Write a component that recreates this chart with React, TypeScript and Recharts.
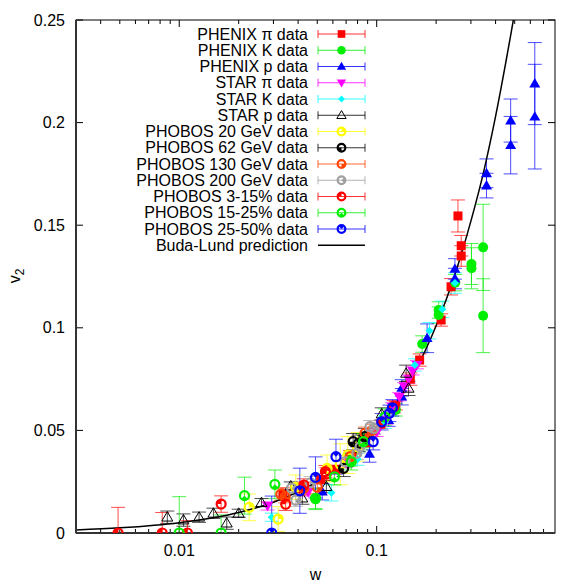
import React from 'react';
import { ComposedChart, Scatter, Line, XAxis, YAxis, ErrorBar } from 'recharts';

type Pt = { w: number; v: number; e: number | [number, number] };

const phenixPi: Pt[] = [
  { w: 0.0335, v: 0.019, e: 0.003 }, { w: 0.042, v: 0.0215, e: 0.003 }, { w: 0.052, v: 0.026, e: 0.002 },
  { w: 0.062, v: 0.031, e: 0.002 }, { w: 0.075, v: 0.037, e: 0.002 }, { w: 0.088, v: 0.044, e: 0.002 },
  { w: 0.105, v: 0.053, e: 0.002 }, { w: 0.125, v: 0.062, e: 0.002 }, { w: 0.148, v: 0.075, e: 0.003 },
  { w: 0.165, v: 0.0843, e: 0.003 }, { w: 0.212, v: 0.1038, e: 0.003 }, { w: 0.238, v: 0.12, e: 0.004 },
  { w: 0.258, v: 0.1545, e: 0.0078 }, { w: 0.268, v: 0.14, e: 0.005 }, { w: 0.268, v: 0.135, e: 0.005 },
];
const phenixK: Pt[] = [
  { w: 0.049, v: 0.0164, e: 0.005 }, { w: 0.074, v: 0.0356, e: 0.003 }, { w: 0.086, v: 0.0445, e: 0.003 },
  { w: 0.125, v: 0.06, e: 0.003 }, { w: 0.17, v: 0.0921, e: 0.004 }, { w: 0.206, v: 0.1087, e: 0.004 },
  { w: 0.206, v: 0.1062, e: 0.004 }, { w: 0.25, v: 0.122, e: 0.004 }, { w: 0.302, v: 0.1311, e: 0.01 },
  { w: 0.302, v: 0.129, e: 0.01 }, { w: 0.346, v: 0.1392, e: 0.021 }, { w: 0.346, v: 0.1059, e: 0.018 },
];
const phenixP: Pt[] = [
  { w: 0.053, v: 0.0201, e: 0.004 }, { w: 0.092, v: 0.0385, e: 0.004 }, { w: 0.115, v: 0.055, e: 0.003 },
  { w: 0.134, v: 0.0707, e: 0.004 }, { w: 0.134, v: 0.0664, e: 0.004 }, { w: 0.18, v: 0.0949, e: 0.007 },
  { w: 0.249, v: 0.1287, e: 0.005 }, { w: 0.249, v: 0.124, e: 0.005 }, { w: 0.36, v: 0.1753, e: 0.007 },
  { w: 0.36, v: 0.1693, e: 0.006 }, { w: 0.477, v: 0.201, e: 0.0105 }, { w: 0.477, v: 0.189, e: 0.014 },
  { w: 0.632, v: 0.219, e: 0.02 }, { w: 0.632, v: 0.2029, e: 0.0255 },
];
const starPi: Pt[] = [
  { w: 0.028, v: 0.0132, e: 0.002 }, { w: 0.045, v: 0.02, e: 0.002 }, { w: 0.07, v: 0.034, e: 0.002 },
  { w: 0.1, v: 0.049, e: 0.002 }, { w: 0.112, v: 0.055, e: 0.002 }, { w: 0.12, v: 0.0615, e: 0.002 },
  { w: 0.13, v: 0.0664, e: 0.002 }, { w: 0.138, v: 0.0713, e: 0.002 }, { w: 0.145, v: 0.075, e: 0.002 },
  { w: 0.152, v: 0.079, e: 0.002 }, { w: 0.16, v: 0.082, e: 0.002 },
];
const starK: Pt[] = [
  { w: 0.0294, v: 0.0077, e: 0.002 }, { w: 0.059, v: 0.0196, e: 0.004 }, { w: 0.08, v: 0.036, e: 0.003 },
  { w: 0.11, v: 0.054, e: 0.003 }, { w: 0.156, v: 0.0819, e: 0.003 }, { w: 0.185, v: 0.0986, e: 0.004 },
  { w: 0.215, v: 0.109, e: 0.004 }, { w: 0.249, v: 0.1218, e: 0.005 },
];
const starP: Pt[] = [
  { w: 0.0087, v: 0.0077, e: 0.003 }, { w: 0.0105, v: 0.0063, e: 0.003 }, { w: 0.0126, v: 0.0077, e: 0.0025 },
  { w: 0.0149, v: 0.0096, e: 0.0025 }, { w: 0.0174, v: 0.0048, e: 0.003 }, { w: 0.02, v: 0.0096, e: 0.002 },
  { w: 0.0261, v: 0.0148, e: 0.002 }, { w: 0.0367, v: 0.0229, e: 0.002 }, { w: 0.042, v: 0.017, e: 0.003 },
  { w: 0.0556, v: 0.0226, e: 0.003 }, { w: 0.085, v: 0.0453, e: 0.003 }, { w: 0.106, v: 0.058, e: 0.003 },
  { w: 0.141, v: 0.0778, e: 0.004 }, { w: 0.145, v: 0.0705, e: 0.0035 },
];
const phobos20: Pt[] = [
  { w: 0.0226, v: 0.0125, e: 0.0065 }, { w: 0.0317, v: 0.0068, e: 0.006 }, { w: 0.0389, v: 0.0223, e: 0.006 },
  { w: 0.0561, v: 0.0315, e: 0.0065 }, { w: 0.0654, v: 0.0335, e: 0.01 }, { w: 0.0715, v: 0.038, e: 0.009 },
  { w: 0.08, v: 0.042, e: 0.007 },
];
const phobos62: Pt[] = [
  { w: 0.068, v: 0.0315, e: 0.004 }, { w: 0.076, v: 0.0445, e: 0.004 }, { w: 0.081, v: 0.0437, e: 0.004 },
  { w: 0.087, v: 0.047, e: 0.004 },
];
const phobos130: Pt[] = [
  { w: 0.0327, v: 0.0189, e: 0.003 }, { w: 0.0344, v: 0.0177, e: 0.003 }, { w: 0.0428, v: 0.0218, e: 0.003 },
  { w: 0.05, v: 0.0223, e: 0.003 }, { w: 0.0734, v: 0.0372, e: 0.003 }, { w: 0.0873, v: 0.0486, e: 0.003 },
  { w: 0.095, v: 0.05, e: 0.003 },
];
const phobos200: Pt[] = [
  { w: 0.0371, v: 0.0218, e: 0.003 }, { w: 0.0389, v: 0.016, e: 0.003 }, { w: 0.0462, v: 0.0245, e: 0.003 },
  { w: 0.0692, v: 0.0347, e: 0.003 }, { w: 0.0793, v: 0.0388, e: 0.003 }, { w: 0.0824, v: 0.042, e: 0.003 },
  { w: 0.0925, v: 0.0518, e: 0.003 }, { w: 0.097, v: 0.051, e: 0.003 },
];
const phobos3to15: Pt[] = [
  { w: 0.0049, v: 0, e: [0, 0.0125] }, { w: 0.0082, v: 0, e: [0, 0.01] }, { w: 0.011, v: 0, e: [0, 0.006] },
  { w: 0.0163, v: 0.0141, e: 0.004 }, { w: 0.0346, v: 0.014, e: 0.003 }, { w: 0.0428, v: 0.0234, e: 0.003 },
  { w: 0.055, v: 0.0299, e: 0.003 }, { w: 0.0556, v: 0.0288, e: 0.003 }, { w: 0.122, v: 0.0615, e: 0.003 },
];
const phobos15to25: Pt[] = [
  { w: 0.01, v: 0, e: [0, 0.0177] }, { w: 0.0163, v: 0, e: [0, 0.0088] }, { w: 0.0214, v: 0.0182, e: 0.009 },
  { w: 0.0305, v: 0.0237, e: 0.007 }, { w: 0.049, v: 0.0169, e: 0.005 }, { w: 0.0611, v: 0.0274, e: 0.004 },
  { w: 0.0743, v: 0.0347, e: 0.004 }, { w: 0.0857, v: 0.0445, e: 0.004 }, { w: 0.11, v: 0.0565, e: 0.004 },
];
const phobos25to50: Pt[] = [
  { w: 0.0294, v: 0, e: [0, 0.018] }, { w: 0.0408, v: 0.0206, e: 0.011 }, { w: 0.049, v: 0.0271, e: 0.01 },
  { w: 0.0622, v: 0.0372, e: 0.0085 }, { w: 0.096, v: 0.0445, e: 0.004 }, { w: 0.106, v: 0.0542, e: 0.004 },
  { w: 0.116, v: 0.0583, e: 0.004 }, { w: 0.12, v: 0.061, e: 0.004 },
];
const budaLund = [
  { w: 0.003, v: 0.0015 }, { w: 0.005, v: 0.0025 }, { w: 0.01, v: 0.005 }, { w: 0.02, v: 0.01 },
  { w: 0.03, v: 0.015 }, { w: 0.05, v: 0.025 }, { w: 0.07, v: 0.035 }, { w: 0.1, v: 0.05 },
  { w: 0.15, v: 0.0755 }, { w: 0.2, v: 0.101 }, { w: 0.25, v: 0.1265 }, { w: 0.3, v: 0.152 },
  { w: 0.35, v: 0.177 }, { w: 0.4, v: 0.203 }, { w: 0.45, v: 0.229 }, { w: 0.5, v: 0.254 },
  { w: 0.55, v: 0.28 },
];

const X_MIN = 0.003;
const X_MAX = 0.8;
const Y_MIN = 0;
const Y_MAX = 0.25;
const xMajor = [0.01, 0.1];
const xMinor = [0.004, 0.005, 0.006, 0.007, 0.008, 0.009, 0.02, 0.03, 0.04, 0.05, 0.06, 0.07, 0.08, 0.09, 0.2, 0.3, 0.4, 0.5, 0.6, 0.7];
const xTicks = [...xMinor, ...xMajor].sort((a, b) => a - b);
const yTicks = [0, 0.05, 0.1, 0.15, 0.2, 0.25];

// chart geometry (plot box follows from these)
const CHART_W = 581;
const CHART_H = 583;
const MARGIN = { top: 20, right: 26, bottom: 0, left: 0 };
const Y_AXIS_W = 76;
const X_AXIS_H = 50;
const PLOT = {
  left: MARGIN.left + Y_AXIS_W,
  right: CHART_W - MARGIN.right,
  top: MARGIN.top,
  bottom: CHART_H - MARGIN.bottom - X_AXIS_H,
};

const SERIES = [
  { name: 'PHENIX π data', data: phenixPi, color: '#ff0000', kind: 'square', rot: 0 },
  { name: 'PHENIX K data', data: phenixK, color: '#00ee00', kind: 'circle', rot: 0 },
  { name: 'PHENIX p data', data: phenixP, color: '#0000ff', kind: 'tri', rot: 0 },
  { name: 'STAR π data', data: starPi, color: '#ff00ff', kind: 'itri', rot: 0 },
  { name: 'STAR K data', data: starK, color: '#00ffff', kind: 'diamond', rot: 0 },
  { name: 'STAR p data', data: starP, color: '#000000', kind: 'otri', rot: 0 },
  { name: 'PHOBOS 20 GeV data', data: phobos20, color: '#ffff00', kind: 'ring', rot: 0 },
  { name: 'PHOBOS 62 GeV data', data: phobos62, color: '#000000', kind: 'ring', rot: 180 },
  { name: 'PHOBOS 130 GeV data', data: phobos130, color: '#ff4500', kind: 'ring', rot: 90 },
  { name: 'PHOBOS 200 GeV data', data: phobos200, color: '#a0a0a0', kind: 'ring', rot: 45 },
  { name: 'PHOBOS 3-15% data', data: phobos3to15, color: '#ff0000', kind: 'ring', rot: 270 },
  { name: 'PHOBOS 15-25% data', data: phobos15to25, color: '#00ee00', kind: 'ring', rot: 135 },
  { name: 'PHOBOS 25-50% data', data: phobos25to50, color: '#0000ff', kind: 'ring', rot: 315 },
];

const FONT = 'Liberation Sans, Arial, Helvetica, sans-serif';

function Marker({ kind, cx, cy, color, rot, legend }: any) {
  if (cx == null || cy == null) return null;
  const k = legend ? 0.85 : 1;
  switch (kind) {
    case 'square': {
      const h = 4.5 * k;
      return <rect x={cx - h} y={cy - h} width={2 * h} height={2 * h} fill={color} />;
    }
    case 'circle':
      return <circle cx={cx} cy={cy} r={5 * k} fill={color} />;
    case 'tri': {
      const s = 5.5 * k;
      return <polygon points={`${cx},${cy - s} ${cx - s},${cy + s * 0.7} ${cx + s},${cy + s * 0.7}`} fill={color} />;
    }
    case 'itri': {
      const s = 5.5 * k;
      return <polygon points={`${cx},${cy + s} ${cx - s},${cy - s * 0.7} ${cx + s},${cy - s * 0.7}`} fill={color} />;
    }
    case 'diamond': {
      const s = 4 * k;
      return <polygon points={`${cx},${cy - s} ${cx + s},${cy} ${cx},${cy + s} ${cx - s},${cy}`} fill={color} />;
    }
    case 'otri': {
      const s = 5.5 * k;
      return <polygon points={`${cx},${cy - s} ${cx - s},${cy + s * 0.7} ${cx + s},${cy + s * 0.7}`} fill="none" stroke={color} strokeWidth={1} />;
    }
    case 'ring': {
      const r = 4.5 * k;
      const a0 = ((rot - 90) * Math.PI) / 180;
      const a1 = a0 + Math.PI / 2;
      const d = `M${cx},${cy} L${cx + r * Math.cos(a0)},${cy + r * Math.sin(a0)} A${r},${r} 0 0 1 ${cx + r * Math.cos(a1)},${cy + r * Math.sin(a1)} Z`;
      return (
        <g>
          <circle cx={cx} cy={cy} r={r} fill="none" stroke={color} strokeWidth={2.2} />
          <path d={d} fill={color} />
        </g>
      );
    }
    default:
      return null;
  }
}

const BottomTick = (props: any) => {
  const { x, y, payload } = props;
  if (!xMajor.includes(payload.value)) return <g />;
  return (
    <text x={x} y={y + 23} textAnchor="middle" fontSize={16} fontFamily={FONT} fill="#000">
      {String(payload.value)}
    </text>
  );
};
const LeftTick = (props: any) => {
  const { x, y, payload } = props;
  return (
    <text x={x - 11} y={y + 5.5} textAnchor="end" fontSize={16} fontFamily={FONT} fill="#000">
      {String(payload.value)}
    </text>
  );
};

// frame box with inward tick marks on all four sides (same log/linear mapping as the axes)
function Frame() {
  const { left: L, right: R, top: T, bottom: B } = PLOT;
  const lx0 = Math.log10(X_MIN);
  const lx1 = Math.log10(X_MAX);
  const xp = (w: number) => L + ((Math.log10(w) - lx0) / (lx1 - lx0)) * (R - L);
  const yp = (v: number) => B - ((v - Y_MIN) / (Y_MAX - Y_MIN)) * (B - T);
  return (
    <g>
      <rect x={L} y={T} width={R - L} height={B - T} fill="none" stroke="#000" strokeWidth={1} />
      {xTicks.map((t) => {
        const len = xMajor.includes(t) ? 7 : 4;
        const x = xp(t);
        return (
          <g key={`x${t}`}>
            <line x1={x} x2={x} y1={B} y2={B - len} stroke="#000" strokeWidth={1} />
            <line x1={x} x2={x} y1={T} y2={T + len} stroke="#000" strokeWidth={1} />
          </g>
        );
      })}
      {yTicks.map((t) => {
        const y = yp(t);
        return (
          <g key={`y${t}`}>
            <line x1={L} x2={L + 7} y1={y} y2={y} stroke="#000" strokeWidth={1} />
            <line x1={R} x2={R - 7} y1={y} y2={y} stroke="#000" strokeWidth={1} />
          </g>
        );
      })}
    </g>
  );
}

function LegendBox() {
  const textX = 308;
  const l0 = 318;
  const l1 = 365;
  const mx = (l0 + l1) / 2;
  const y0 = 34;
  const dy = 16.25;
  return (
    <g>
      {SERIES.map((s, i) => {
        const y = y0 + i * dy;
        return (
          <g key={s.name}>
            <text x={textX} y={y + 5.5} textAnchor="end" fontSize={16} fontFamily={FONT} fill="#000">
              {s.name}
            </text>
            <line x1={l0} x2={l1} y1={y} y2={y} stroke={s.color} strokeWidth={1} strokeOpacity={0.8} />
            <line x1={l0} x2={l0} y1={y - 4} y2={y + 4} stroke={s.color} strokeWidth={1} strokeOpacity={0.8} />
            <line x1={l1} x2={l1} y1={y - 4} y2={y + 4} stroke={s.color} strokeWidth={1} strokeOpacity={0.8} />
            <Marker kind={s.kind} cx={mx} cy={y} color={s.color} rot={s.rot} legend />
          </g>
        );
      })}
      <text x={textX} y={y0 + SERIES.length * dy + 5.5} textAnchor="end" fontSize={16} fontFamily={FONT} fill="#000">
        Buda-Lund prediction
      </text>
      <line x1={l0} x2={l1} y1={y0 + SERIES.length * dy} y2={y0 + SERIES.length * dy} stroke="#000" strokeWidth={1.5} />
    </g>
  );
}

export default function App() {
  return (
    <div style={{ position: 'absolute', left: 0, top: 0, background: '#fff' }}>
      <ComposedChart width={CHART_W} height={CHART_H} margin={MARGIN}>
        <XAxis
          xAxisId="b"
          dataKey="w"
          type="number"
          scale="log"
          domain={[X_MIN, X_MAX]}
          allowDataOverflow
          ticks={xTicks}
          interval={0}
          height={X_AXIS_H}
          tickSize={0}
          tickMargin={0}
          tickLine={false}
          tick={<BottomTick />}
          axisLine={{ stroke: '#333', strokeWidth: 2 }}
        />
        <YAxis
          yAxisId="l"
          dataKey="v"
          type="number"
          domain={[Y_MIN, Y_MAX]}
          allowDataOverflow
          ticks={yTicks}
          interval={0}
          width={Y_AXIS_W}
          tickSize={0}
          tickMargin={0}
          tickLine={false}
          tick={<LeftTick />}
          axisLine={{ stroke: '#333', strokeWidth: 2 }}
        />
        {SERIES.map((s) => (
          <Scatter
            key={s.name}
            name={s.name}
            data={s.data}
            dataKey="v"
            xAxisId="b"
            yAxisId="l"
            isAnimationActive={false}
            shape={(p: any) => <Marker kind={s.kind} cx={p.cx} cy={p.cy} color={s.color} rot={s.rot} />}
          >
            <ErrorBar dataKey="e" direction="y" width={7} stroke={s.color} strokeWidth={1} strokeOpacity={0.7} isAnimationActive={false} />
          </Scatter>
        ))}
        <Line
          data={budaLund}
          dataKey="v"
          xAxisId="b"
          yAxisId="l"
          type="monotone"
          stroke="#000"
          strokeWidth={1.5}
          dot={false}
          activeDot={false}
          isAnimationActive={false}
        />
        <Frame />
        <LegendBox />
        <text x={315.5} y={580} textAnchor="middle" fontSize={16} fontFamily={FONT} fill="#000">
          w
        </text>
        <text x={20} y={276} transform="rotate(-90 20 276)" textAnchor="middle" fontSize={16} fontFamily={FONT} fill="#000">
          v<tspan fontSize={12} dy={4}>2</tspan>
        </text>
      </ComposedChart>
    </div>
  );
}
